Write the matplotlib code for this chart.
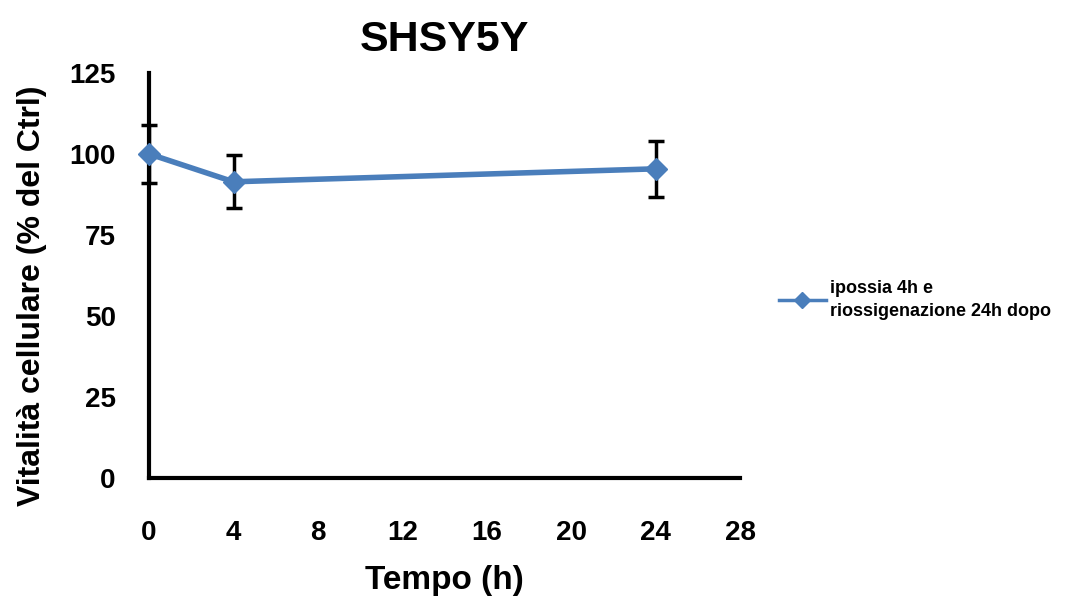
import matplotlib.pyplot as plt

plt.rcParams['font.family'] = ['Liberation Sans', 'DejaVu Sans']
plt.rcParams['font.weight'] = 'bold'

tempo = [0, 4, 24]
vitalita = [100, 91.4, 95.4]
errore = [9, 8.2, 8.6]
x_ticks = [0, 4, 8, 12, 16, 20, 24, 28]
y_ticks = [0, 25, 50, 75, 100, 125]
serie = "ipossia 4h e\nriossigenazione 24h dopo"

fig = plt.figure(figsize=(10.65, 5.97), dpi=100)
ax = fig.add_axes([0.140, 0.199, 0.555, 0.679])

ax.errorbar(tempo, vitalita, yerr=errore, fmt='none', ecolor='black',
            elinewidth=2.5, capsize=6, capthick=2.5, zorder=2, clip_on=False)
ax.plot(tempo, vitalita, color='#4a7ebb', lw=4, marker='D', ms=11,
        label=serie, zorder=3, clip_on=False)

ax.set_xlim(0, 28)
ax.set_ylim(0, 125)
ax.set_xticks(x_ticks)
ax.set_yticks(y_ticks)
ax.tick_params(length=0, labelsize=20)
ax.tick_params(axis='x', pad=30)
ax.tick_params(axis='y', pad=24)
for lab in ax.get_xticklabels() + ax.get_yticklabels():
    lab.set_fontweight('bold')
ax.spines['top'].set_visible(False)
ax.spines['right'].set_visible(False)
for s in ['left', 'bottom']:
    ax.spines[s].set_linewidth(3)
ax.set_xlabel("Tempo (h)", fontsize=24, fontweight='bold', labelpad=14)
ax.set_ylabel("Vitalità cellulare (% del Ctrl)", fontsize=23, fontweight='bold')
ax.yaxis.set_label_coords(-0.172, 0.45)
ax.set_title("SHSY5Y", fontsize=31, fontweight='bold', pad=16)

leg = fig.legend(loc='center left', bbox_to_anchor=(0.716, 0.497), frameon=False,
                 prop={'size': 13, 'weight': 'bold'}, handlelength=2.6,
                 handletextpad=0.25, markerscale=0.75)
for line in leg.get_lines():
    line.set_linewidth(2.5)
for t in leg.get_texts():
    t.set_linespacing(1.45)

fig.savefig("out.png", dpi=100)
